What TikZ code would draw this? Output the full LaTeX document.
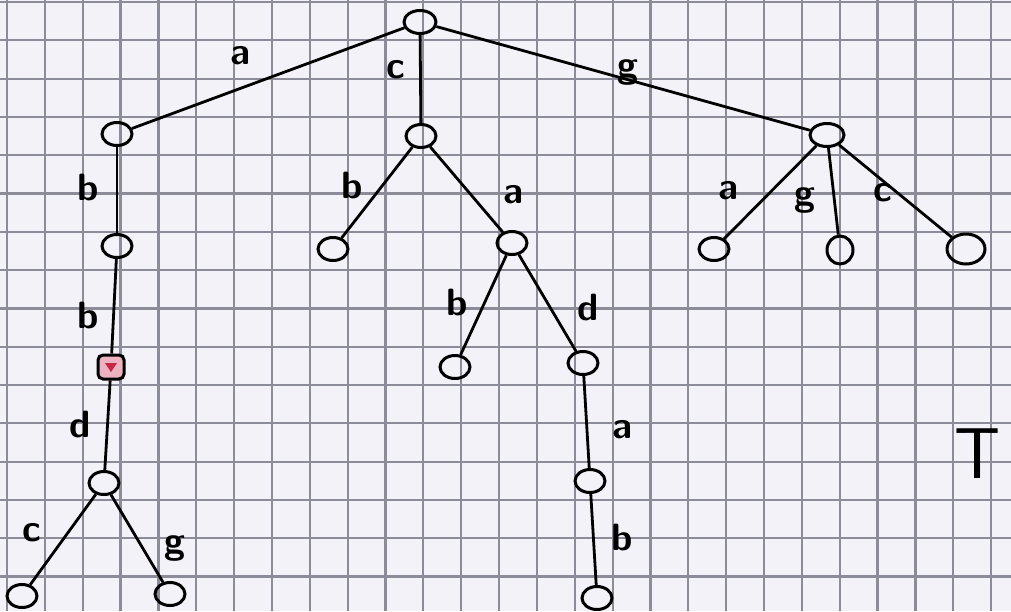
\documentclass[tikz,border=0pt]{standalone}
\usetikzlibrary{shapes.geometric}
\definecolor{paper}{RGB}{242,242,248}
\definecolor{gridc}{RGB}{140,140,152}
\definecolor{pinkfill}{RGB}{236,178,192}
\definecolor{heart}{RGB}{196,40,70}
\tikzset{
  vert/.style={ellipse, draw=black, line width=3pt, minimum width=30pt, minimum height=23pt, inner sep=0pt},
  pinkvert/.style={rectangle, rounded corners=5pt, draw=black, line width=3pt, fill=pinkfill, minimum width=26pt, minimum height=24pt, inner sep=0pt},
  edgeline/.style={line width=2.8pt, black},
  lab/.style={font=\sffamily\bfseries\fontsize{38}{44}\selectfont, inner sep=0pt}
}
\begin{document}
\begin{tikzpicture}[x=1pt,y=-1pt]
\useasboundingbox (0,0) rectangle (1011,611);
\fill[paper] (0,0) rectangle (1011,611);
% grid paper
\foreach \k in {0,...,26} {
  \draw[gridc, line width=2.2pt] ({7+37.85*\k},0) -- ({7+37.85*\k},611);
}
\foreach \k in {0,...,15} {
  \draw[gridc, line width=2.2pt] (0,{2+38.3*\k}) -- (1011,{2+38.3*\k});
}
% vertices
\node[vert, minimum width=32pt] (r) at (420,22) {};
\node[vert] (A) at (117,134) {};
\node[vert] (C) at (421,136) {};
\node[vert, minimum width=34pt] (G) at (827,135) {};
\node[vert] (A1) at (117,246) {};
\node[pinkvert] (A2) at (111,367) {};
\node[vert] (A3) at (104,483) {};
\node[vert] (A4) at (22,596) {};
\node[vert] (A5) at (170,594) {};
\node[vert] (Cb) at (333,249) {};
\node[vert] (Ca) at (512,243) {};
\node[vert] (Cab) at (455,367) {};
\node[vert] (Cad) at (583,363) {};
\node[vert] (Cada) at (590,481) {};
\node[vert] (Cadab) at (597,598) {};
\node[vert] (Ga) at (714,249) {};
\node[vert, minimum width=26pt, minimum height=28pt] (Gg) at (840,250) {};
\node[vert, minimum width=38pt, minimum height=30pt] (Gc) at (966,249) {};
% mark inside pink vertex
\fill[heart] ([shift={(-6,-4)}]A2.center) -- ([shift={(6,-4)}]A2.center) -- ([shift={(0,5)}]A2.center) -- cycle;
% edges
\draw[edgeline] (r) -- (A);
\draw[edgeline] (r) -- (C);
\draw[edgeline] (r) -- (G);
\draw[edgeline] (A) -- (A1);
\draw[edgeline] (A1) -- (A2);
\draw[edgeline] (A2) -- (A3);
\draw[edgeline] (A3) -- (A4);
\draw[edgeline] (A3) -- (A5);
\draw[edgeline] (C) -- (Cb);
\draw[edgeline] (C) -- (Ca);
\draw[edgeline] (Ca) -- (Cab);
\draw[edgeline] (Ca) -- (Cad);
\draw[edgeline] (Cad) -- (Cada);
\draw[edgeline] (Cada) -- (Cadab);
\draw[edgeline] (G) -- (Ga);
\draw[edgeline] (G) -- (Gg);
\draw[edgeline] (G) -- (Gc);
% edge labels
\node[lab] (l1) at (240,56) {a};
\node[lab] (l2) at (396,70) {c};
\node[lab] (l3) at (628,72) {g};
\node[lab] (l4) at (88,188) {b};
\node[lab] (l5) at (88,316) {b};
\node[lab] (l6) at (80,425) {d};
\node[lab] (l7) at (32,533) {c};
\node[lab] (l8) at (175,548) {g};
\node[lab] (l9) at (352,186) {b};
\node[lab] (l10) at (513,195) {a};
\node[lab] (l11) at (457,303) {b};
\node[lab] (l12) at (588,308) {d};
\node[lab] (l13) at (622,430) {a};
\node[lab] (l14) at (622,538) {b};
\node[lab] (l15) at (728,191) {a};
\node[lab] (l16) at (805,200) {g};
\node[lab] (l17) at (883,193) {c};
\node[lab, font=\sffamily\fontsize{72}{80}\selectfont] (T) at (978,454) {T};
\end{tikzpicture}
\end{document}
